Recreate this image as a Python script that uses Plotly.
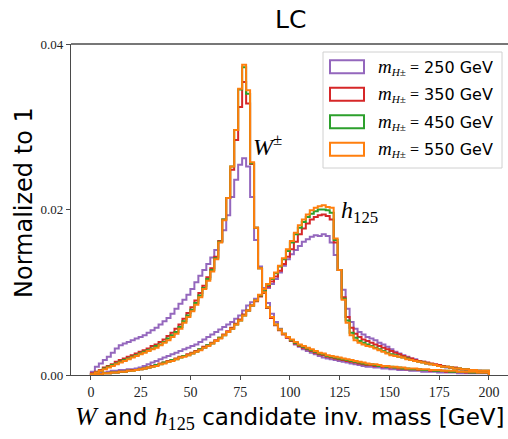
import plotly.graph_objects as go

# ---------------- data (2 GeV bins, 0..200 GeV) ----------------
bin_width = 2.0
x_ticks = [0, 25, 50, 75, 100, 125, 150, 175, 200]
y_ticks = [0.00, 0.02, 0.04]
labels = ["250", "350", "450", "550"]
colors = ["#9467bd", "#d62728", "#2ca02c", "#ff7f0e"]

w250 = [0.0004, 0.0010, 0.0014, 0.0018, 0.0022, 0.0027, 0.0032, 0.0036, 0.0038, 0.0040,
        0.0042, 0.0044, 0.0046, 0.0048, 0.0051, 0.0054, 0.0057, 0.0061, 0.0065, 0.0069,
        0.0074, 0.0080, 0.0086, 0.0091, 0.0097, 0.0104, 0.0112, 0.0120, 0.0127, 0.0134,
        0.0142, 0.0151, 0.0161, 0.0175, 0.0193, 0.0215, 0.0236, 0.0254, 0.0262, 0.0252,
        0.0215, 0.0163, 0.0131, 0.0105, 0.0087, 0.0074, 0.0064, 0.0056, 0.0050, 0.0045,
        0.0041, 0.0037, 0.0034, 0.0031, 0.0029, 0.0027, 0.0025, 0.0023, 0.0021, 0.0020,
        0.0019, 0.0018, 0.0017, 0.0016, 0.0015, 0.0014, 0.0013, 0.0012, 0.0011, 0.0010,
        0.0010, 0.0009, 0.0009, 0.0008, 0.0008, 0.0007, 0.0007, 0.0006, 0.0006, 0.0006,
        0.0005, 0.0005, 0.0005, 0.0004, 0.0004, 0.0004, 0.0004, 0.0003, 0.0003, 0.0003,
        0.0003, 0.0003, 0.0002, 0.0002, 0.0002, 0.0002, 0.0002, 0.0002, 0.0002, 0.0002]

w350 = [0.0002, 0.0004, 0.0006, 0.0009, 0.0011, 0.0013, 0.0016, 0.0018, 0.0020, 0.0022,
        0.0024, 0.0026, 0.0028, 0.0030, 0.0032, 0.0035, 0.0037, 0.0040, 0.0043, 0.0047,
        0.0051, 0.0056, 0.0061, 0.0068, 0.0075, 0.0082, 0.0090, 0.0099, 0.0108, 0.0118,
        0.0129, 0.0143, 0.0162, 0.0188, 0.0214, 0.0248, 0.0284, 0.0324, 0.0354, 0.0328,
        0.0255, 0.0178, 0.0129, 0.0099, 0.0081, 0.0069, 0.0060, 0.0054, 0.0049, 0.0045,
        0.0041, 0.0038, 0.0035, 0.0033, 0.0031, 0.0029, 0.0027, 0.0025, 0.0024, 0.0022,
        0.0021, 0.0020, 0.0019, 0.0018, 0.0017, 0.0016, 0.0015, 0.0014, 0.0013, 0.0012,
        0.0012, 0.0011, 0.0011, 0.0010, 0.0010, 0.0009, 0.0009, 0.0008, 0.0008, 0.0007,
        0.0007, 0.0007, 0.0006, 0.0006, 0.0006, 0.0005, 0.0005, 0.0005, 0.0005, 0.0004,
        0.0004, 0.0004, 0.0004, 0.0004, 0.0003, 0.0003, 0.0003, 0.0003, 0.0003, 0.0003]

w450 = [0.0001, 0.0003, 0.0005, 0.0008, 0.0010, 0.0012, 0.0014, 0.0016, 0.0018, 0.0020,
        0.0022, 0.0024, 0.0026, 0.0028, 0.0030, 0.0032, 0.0035, 0.0037, 0.0040, 0.0044,
        0.0048, 0.0052, 0.0058, 0.0065, 0.0072, 0.0079, 0.0087, 0.0096, 0.0105, 0.0116,
        0.0127, 0.0141, 0.0161, 0.0188, 0.0214, 0.0252, 0.0296, 0.0345, 0.0372, 0.0340,
        0.0256, 0.0178, 0.0129, 0.0100, 0.0082, 0.0070, 0.0061, 0.0055, 0.0050, 0.0046,
        0.0042, 0.0039, 0.0036, 0.0034, 0.0032, 0.0030, 0.0028, 0.0026, 0.0025, 0.0023,
        0.0022, 0.0021, 0.0020, 0.0019, 0.0018, 0.0017, 0.0016, 0.0015, 0.0014, 0.0013,
        0.0013, 0.0012, 0.0011, 0.0011, 0.0010, 0.0010, 0.0009, 0.0009, 0.0008, 0.0008,
        0.0007, 0.0007, 0.0007, 0.0006, 0.0006, 0.0006, 0.0005, 0.0005, 0.0005, 0.0005,
        0.0004, 0.0004, 0.0004, 0.0004, 0.0004, 0.0003, 0.0003, 0.0003, 0.0003, 0.0003]

w550 = [0.0001, 0.0003, 0.0005, 0.0007, 0.0009, 0.0011, 0.0013, 0.0015, 0.0017, 0.0019,
        0.0021, 0.0023, 0.0025, 0.0027, 0.0029, 0.0031, 0.0033, 0.0036, 0.0039, 0.0042,
        0.0046, 0.0050, 0.0056, 0.0063, 0.0070, 0.0077, 0.0085, 0.0094, 0.0104, 0.0114,
        0.0125, 0.0140, 0.0160, 0.0187, 0.0214, 0.0252, 0.0296, 0.0346, 0.0375, 0.0344,
        0.0257, 0.0178, 0.0129, 0.0100, 0.0082, 0.0070, 0.0061, 0.0055, 0.0050, 0.0046,
        0.0043, 0.0040, 0.0037, 0.0035, 0.0033, 0.0031, 0.0029, 0.0027, 0.0026, 0.0024,
        0.0023, 0.0022, 0.0021, 0.0020, 0.0019, 0.0018, 0.0017, 0.0016, 0.0015, 0.0014,
        0.0013, 0.0013, 0.0012, 0.0011, 0.0011, 0.0010, 0.0010, 0.0009, 0.0009, 0.0008,
        0.0008, 0.0008, 0.0007, 0.0007, 0.0007, 0.0006, 0.0006, 0.0006, 0.0005, 0.0005,
        0.0005, 0.0005, 0.0004, 0.0004, 0.0004, 0.0004, 0.0004, 0.0003, 0.0003, 0.0003]

h250 = [0.0001, 0.0002, 0.0003, 0.0003, 0.0004, 0.0005, 0.0005, 0.0006, 0.0006, 0.0007,
        0.0007, 0.0008, 0.0009, 0.0011, 0.0013, 0.0015, 0.0017, 0.0019, 0.0021, 0.0023,
        0.0025, 0.0027, 0.0029, 0.0031, 0.0033, 0.0035, 0.0037, 0.0040, 0.0043, 0.0046,
        0.0049, 0.0052, 0.0055, 0.0058, 0.0061, 0.0064, 0.0068, 0.0072, 0.0078, 0.0084,
        0.0088, 0.0092, 0.0096, 0.0100, 0.0105, 0.0110, 0.0116, 0.0124, 0.0132, 0.0140,
        0.0146, 0.0151, 0.0156, 0.0161, 0.0164, 0.0167, 0.0169, 0.0168, 0.0170, 0.0168,
        0.0160, 0.0145, 0.0127, 0.0103, 0.0080, 0.0064, 0.0056, 0.0052, 0.0049, 0.0046,
        0.0044, 0.0042, 0.0039, 0.0037, 0.0034, 0.0031, 0.0028, 0.0026, 0.0024, 0.0022,
        0.0020, 0.0019, 0.0017, 0.0016, 0.0014, 0.0013, 0.0012, 0.0011, 0.0010, 0.0009,
        0.0009, 0.0008, 0.0007, 0.0007, 0.0006, 0.0006, 0.0005, 0.0005, 0.0004, 0.0004]

h350 = [0.0000, 0.0001, 0.0001, 0.0002, 0.0002, 0.0003, 0.0003, 0.0004, 0.0004, 0.0005,
        0.0006, 0.0006, 0.0007, 0.0008, 0.0009, 0.0011, 0.0012, 0.0014, 0.0015, 0.0017,
        0.0018, 0.0020, 0.0022, 0.0023, 0.0025, 0.0027, 0.0029, 0.0031, 0.0034, 0.0036,
        0.0039, 0.0042, 0.0045, 0.0049, 0.0053, 0.0057, 0.0062, 0.0067, 0.0073, 0.0078,
        0.0084, 0.0089, 0.0095, 0.0101, 0.0107, 0.0113, 0.0119, 0.0126, 0.0134, 0.0143,
        0.0152, 0.0161, 0.0170, 0.0177, 0.0183, 0.0188, 0.0191, 0.0193, 0.0194, 0.0192,
        0.0188, 0.0160, 0.0127, 0.0094, 0.0070, 0.0057, 0.0050, 0.0046, 0.0043, 0.0041,
        0.0039, 0.0037, 0.0035, 0.0033, 0.0031, 0.0029, 0.0027, 0.0025, 0.0023, 0.0021,
        0.0020, 0.0018, 0.0017, 0.0016, 0.0015, 0.0014, 0.0013, 0.0012, 0.0011, 0.0010,
        0.0009, 0.0009, 0.0008, 0.0007, 0.0007, 0.0006, 0.0006, 0.0005, 0.0005, 0.0005]

h450 = [0.0000, 0.0001, 0.0001, 0.0002, 0.0002, 0.0003, 0.0003, 0.0004, 0.0004, 0.0005,
        0.0005, 0.0006, 0.0007, 0.0008, 0.0009, 0.0010, 0.0012, 0.0013, 0.0015, 0.0016,
        0.0018, 0.0019, 0.0021, 0.0023, 0.0024, 0.0026, 0.0028, 0.0031, 0.0033, 0.0036,
        0.0038, 0.0041, 0.0045, 0.0048, 0.0052, 0.0056, 0.0061, 0.0066, 0.0072, 0.0078,
        0.0084, 0.0090, 0.0096, 0.0103, 0.0109, 0.0116, 0.0123, 0.0131, 0.0140, 0.0150,
        0.0160, 0.0170, 0.0178, 0.0185, 0.0191, 0.0195, 0.0198, 0.0200, 0.0200, 0.0199,
        0.0196, 0.0163, 0.0127, 0.0092, 0.0066, 0.0051, 0.0045, 0.0041, 0.0039, 0.0037,
        0.0035, 0.0033, 0.0031, 0.0029, 0.0027, 0.0025, 0.0024, 0.0022, 0.0021, 0.0020,
        0.0018, 0.0017, 0.0016, 0.0015, 0.0014, 0.0013, 0.0012, 0.0011, 0.0010, 0.0010,
        0.0009, 0.0008, 0.0008, 0.0007, 0.0007, 0.0006, 0.0006, 0.0005, 0.0005, 0.0005]

h550 = [0.0000, 0.0001, 0.0001, 0.0002, 0.0002, 0.0003, 0.0003, 0.0004, 0.0004, 0.0005,
        0.0005, 0.0006, 0.0007, 0.0008, 0.0009, 0.0010, 0.0011, 0.0013, 0.0014, 0.0016,
        0.0017, 0.0019, 0.0021, 0.0022, 0.0024, 0.0026, 0.0028, 0.0030, 0.0033, 0.0035,
        0.0038, 0.0041, 0.0044, 0.0048, 0.0052, 0.0056, 0.0061, 0.0066, 0.0072, 0.0078,
        0.0084, 0.0090, 0.0097, 0.0104, 0.0110, 0.0117, 0.0124, 0.0132, 0.0141, 0.0152,
        0.0162, 0.0172, 0.0181, 0.0188, 0.0194, 0.0199, 0.0202, 0.0204, 0.0205, 0.0203,
        0.0202, 0.0165, 0.0127, 0.0091, 0.0063, 0.0048, 0.0042, 0.0039, 0.0037, 0.0035,
        0.0034, 0.0032, 0.0030, 0.0028, 0.0026, 0.0024, 0.0023, 0.0022, 0.0021, 0.0019,
        0.0018, 0.0017, 0.0016, 0.0015, 0.0014, 0.0013, 0.0012, 0.0011, 0.0010, 0.0010,
        0.0009, 0.0008, 0.0008, 0.0007, 0.0007, 0.0006, 0.0006, 0.0005, 0.0005, 0.0005]

w_series = [w250, w350, w450, w550]
h_series = [h250, h350, h450, h550]
for s in w_series + h_series:
    assert len(s) == 100, len(s)

# ---------------- figure ----------------
W_PX, H_PX = 508, 439
ML, MR, MT, MB = 71, 0, 44, 64
SERIF = "Liberation Serif"
SANS = "DejaVu Sans"
AX = "#4a4a4a"


def step_xy(vals):
    edges = [i * bin_width for i in range(len(vals) + 1)]
    xs = [edges[0]] + edges[:-1] + [edges[-1]]
    ys = [0.0] + list(vals) + [0.0]
    return xs, ys


fig = go.Figure()
for col, wv, hv in zip(colors, w_series, h_series):
    for vals in (wv, hv):
        xs, ys = step_xy(vals)
        fig.add_trace(go.Scatter(x=xs, y=ys, mode="lines", line=dict(color=col, width=2, shape="hv"),
                                 showlegend=False, hoverinfo="skip"))

plot_w = W_PX - ML - MR
plot_h = H_PX - MT - MB


def px_x(p):
    return (p - ML) / plot_w


def px_y(p):
    return (H_PX - MB - p) / plot_h


shapes = []
annotations = []

# legend frame
shapes.append(dict(type="rect", xref="paper", yref="paper",
                   x0=px_x(323), x1=px_x(502), y0=px_y(168), y1=px_y(52),
                   line=dict(color="#d0d0d0", width=1), fillcolor="rgba(255,255,255,0.85)", layer="above"))
row_y = [66.7, 94.3, 121.7, 149.3]
for lab, col, ry in zip(labels, colors, row_y):
    shapes.append(dict(type="rect", xref="paper", yref="paper",
                       x0=px_x(330), x1=px_x(364), y0=px_y(ry + 6.5), y1=px_y(ry - 6.5),
                       line=dict(color=col, width=2), fillcolor="rgba(0,0,0,0)", layer="above"))
    annotations.append(dict(xref="paper", yref="paper", x=px_x(376), y=px_y(ry), xanchor="left", yanchor="middle",
                            showarrow=False,
                            text=(f'<span style="font-family:{SERIF};font-size:19px"><i>m</i></span>'
                                  f'<span style="font-family:{SERIF}"><sub><i>H</i>±</sub> =</span> '
                                  f'{lab} GeV'),
                            font=dict(family=SANS, size=16, color="#000")))

# peak labels
annotations.append(dict(x=80.6, y=0.0278, xref="x", yref="y", xanchor="left", yanchor="middle", showarrow=False,
                        text="<i>W</i><sup>±</sup>", font=dict(family=SERIF, size=24, color="#000")))
annotations.append(dict(x=124.5, y=0.0197, xref="x", yref="y", xanchor="left", yanchor="middle", showarrow=False,
                        text="<i>h</i><sub>125</sub>", font=dict(family=SERIF, size=24, color="#000")))

# axis titles
annotations.append(dict(xref="paper", yref="paper", x=px_x(24), y=px_y(203), xanchor="center", yanchor="middle",
                        showarrow=False, textangle=-90, text="Normalized to 1",
                        font=dict(family=SANS, size=24, color="#000")))
annotations.append(dict(xref="paper", yref="paper", x=px_x(290), y=px_y(418), xanchor="center", yanchor="middle",
                        showarrow=False,
                        text=(f'<span style="font-family:{SERIF};font-size:26px"><i>W</i></span> and '
                              f'<span style="font-family:{SERIF};font-size:26px"><i>h</i><sub>125</sub></span> '
                              'candidate inv. mass [GeV]'),
                        font=dict(family=SANS, size=23, color="#000")))
# title
annotations.append(dict(xref="paper", yref="paper", x=px_x(290), y=px_y(19), xanchor="center", yanchor="middle",
                        showarrow=False, text="LC", font=dict(family=SANS, size=25, color="#000")))

# top spine
shapes.append(dict(type="line", xref="paper", yref="paper", x0=0, x1=1, y0=1, y1=1,
                   line=dict(color=AX, width=1.3)))

fig.update_layout(
    width=W_PX, height=H_PX,
    margin=dict(l=ML, r=MR, t=MT, b=MB, pad=0),
    paper_bgcolor="white", plot_bgcolor="white",
    shapes=shapes, annotations=annotations,
    showlegend=False,
)
fig.update_xaxes(range=[-10, 209.6], tickvals=x_ticks, ticktext=[str(v) for v in x_ticks],
                 showgrid=False, zeroline=False, showline=True, linecolor=AX, linewidth=1.3,
                 mirror=False, ticks="outside", ticklen=4, tickcolor=AX, tickwidth=1.2,
                 tickfont=dict(family=SERIF, size=14, color="#222"))
fig.update_yaxes(range=[0, 0.04], tickvals=y_ticks, ticktext=[f"{v:.2f}" for v in y_ticks],
                 showgrid=False, zeroline=False, showline=True, linecolor=AX, linewidth=1.3,
                 ticks="outside", ticklen=4, tickcolor=AX, tickwidth=1.2,
                 tickfont=dict(family=SERIF, size=13, color="#222"))

fig.write_html("out.html")
